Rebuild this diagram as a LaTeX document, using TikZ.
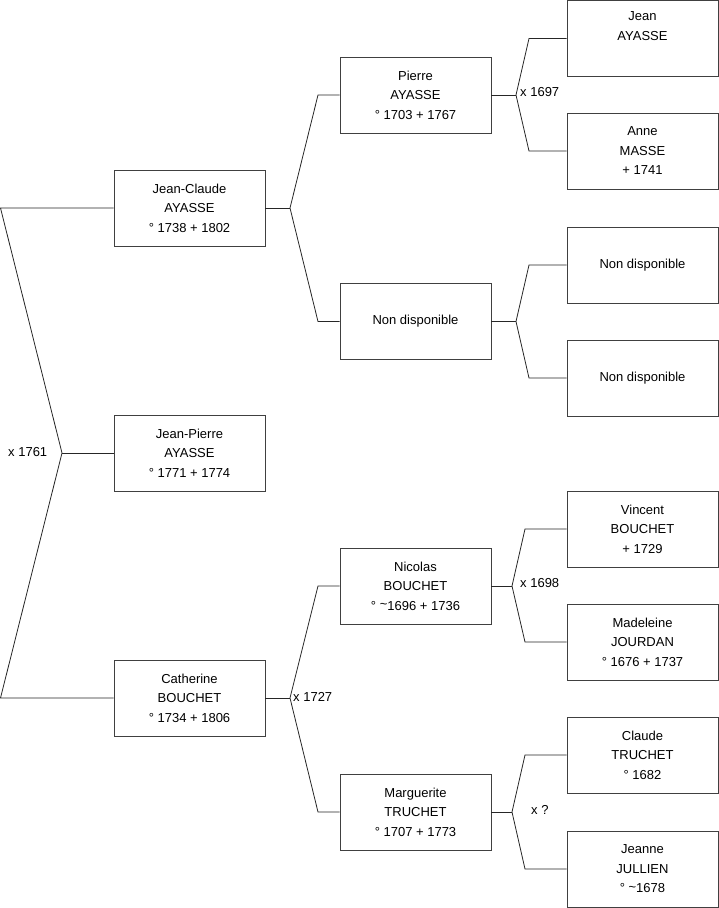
\documentclass[tikz,border=0pt]{standalone}
\usepackage{fontspec}
\setmainfont{Liberation Sans}
\begin{document}
\begin{tikzpicture}[x=1pt,y=-1pt,
  person/.style={draw=black!75, line width=0.9pt, minimum width=151pt, minimum height=76pt,
    align=center, inner sep=0pt, font=\fontsize{13}{19.5}\selectfont},
  link/.style={draw=black!85, line width=0.8pt},
  lbl/.style={font=\fontsize{13}{15}\selectfont, inner sep=0pt, anchor=west}]
\useasboundingbox (0,0) rectangle (719,908);
% generation 1
\node[person] (jc) at (189.5,208) {Jean-Claude\\AYASSE\\° 1738 + 1802};
\node[person] (jp) at (189.5,453) {Jean-Pierre\\AYASSE\\° 1771 + 1774};
\node[person] (cat) at (189.5,698) {Catherine\\BOUCHET\\° 1734 + 1806};
% generation 2
\node[person] (pi) at (415.5,95) {Pierre\\AYASSE\\° 1703 + 1767};
\node[person] (nd) at (415.5,321.5) {Non disponible};
\node[person] (ni) at (415.5,586) {Nicolas\\BOUCHET\\° \raisebox{0.2ex}{\textasciitilde}1696 + 1736};
\node[person] (ma) at (415.5,812) {Marguerite\\TRUCHET\\° 1707 + 1773};
% generation 3
\node[person] (je) at (642.5,38.5) {Jean\\AYASSE\\\strut};
\node[person] (an) at (642.5,151) {Anne\\MASSE\\+ 1741};
\node[person] (nd1) at (642.5,265) {Non disponible};
\node[person] (nd2) at (642.5,378) {Non disponible};
\node[person] (vi) at (642.5,529) {Vincent\\BOUCHET\\+ 1729};
\node[person] (md) at (642.5,642) {Madeleine\\JOURDAN\\° 1676 + 1737};
\node[person] (cl) at (642.5,755) {Claude\\TRUCHET\\° 1682};
\node[person] (jn) at (642.5,869) {Jeanne\\JULLIEN\\° \raisebox{0.2ex}{\textasciitilde}1678};
% coordinates
\coordinate (r0) at (0.5,208);
\coordinate (r1) at (0.5,698);
\coordinate (v0) at (62,453);
\coordinate (v1) at (290,208);
\coordinate (a1) at (318,95);
\coordinate (b1) at (318,321.5);
\coordinate (v2) at (290,698);
\coordinate (a2) at (318,586);
\coordinate (b2) at (318,812);
\coordinate (v3) at (516,95);
\coordinate (a3) at (529,38.5);
\coordinate (b3) at (529,151);
\coordinate (v4) at (516,321.5);
\coordinate (a4) at (529,265);
\coordinate (b4) at (529,378);
\coordinate (v5) at (512,586);
\coordinate (a5) at (525,529);
\coordinate (b5) at (525,642);
\coordinate (v6) at (512,812);
\coordinate (a6) at (525,755);
\coordinate (b6) at (525,869);
% connectors
\draw[link] (jc.west) -- (r0) -- (v0) -- (r1) -- (cat.west);
\draw[link] (v0) -- (jp.west);
\draw[link] (jc.east) -- (v1);
\draw[link] (pi.west) -- (a1) -- (v1) -- (b1) -- (nd.west);
\draw[link] (cat.east) -- (v2);
\draw[link] (ni.west) -- (a2) -- (v2) -- (b2) -- (ma.west);
\draw[link] (pi.east) -- (v3);
\draw[link] (je.west) -- (a3) -- (v3) -- (b3) -- (an.west);
\draw[link] (nd.east) -- (v4);
\draw[link] (nd1.west) -- (a4) -- (v4) -- (b4) -- (nd2.west);
\draw[link] (ni.east) -- (v5);
\draw[link] (vi.west) -- (a5) -- (v5) -- (b5) -- (md.west);
\draw[link] (ma.east) -- (v6);
\draw[link] (cl.west) -- (a6) -- (v6) -- (b6) -- (jn.west);
% labels
\node[lbl] (l0) at (8,452) {x 1761};
\node[lbl] (l1) at (520,92) {x 1697};
\node[lbl] (l2) at (293,697) {x 1727};
\node[lbl] (l3) at (520,583) {x 1698};
\node[lbl] (l4) at (531,810) {x ?};
\end{tikzpicture}
\end{document}
